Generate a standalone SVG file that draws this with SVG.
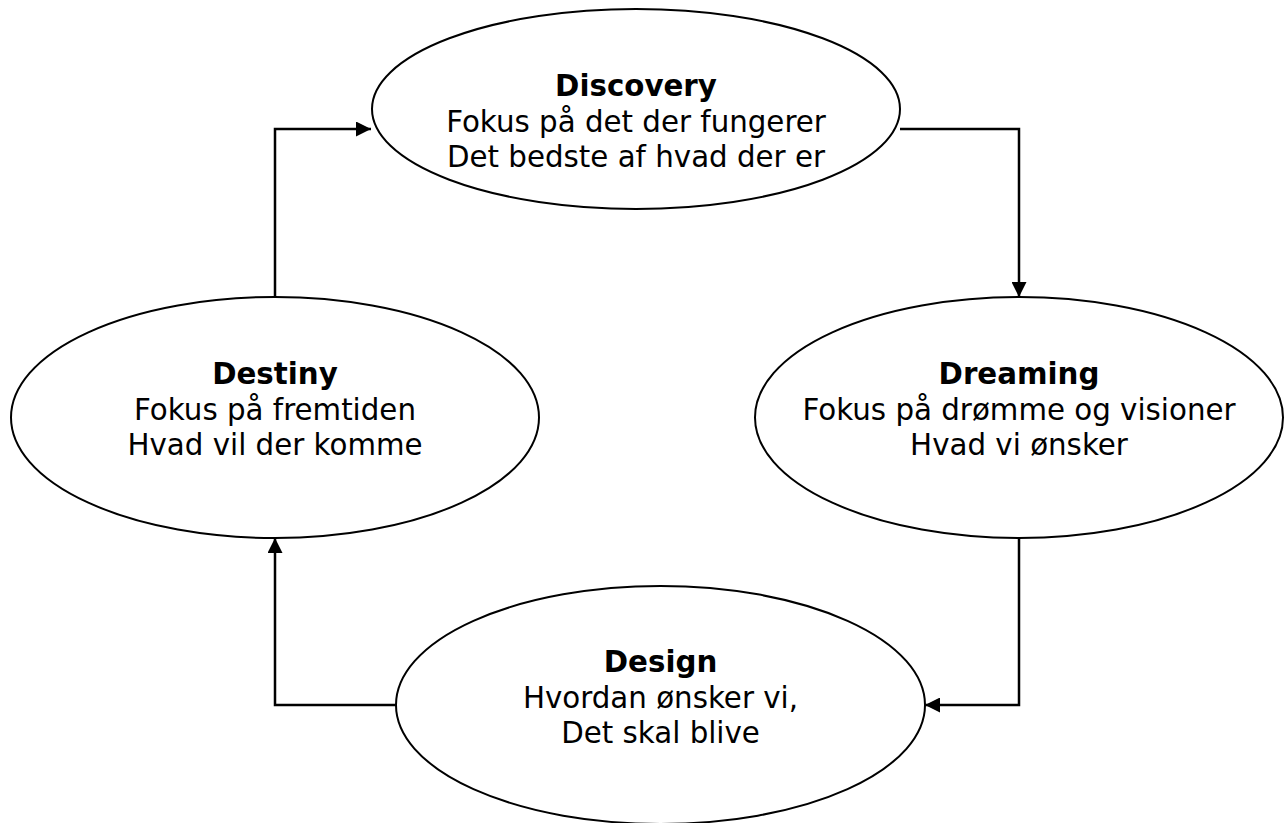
<svg xmlns="http://www.w3.org/2000/svg" width="1286" height="823" viewBox="0 0 1286 823">
<defs>
<marker id="arr" viewBox="0 0 10 10" refX="10" refY="5" markerWidth="6" markerHeight="6" markerUnits="strokeWidth" orient="auto">
<path d="M0,0 L10,5 L0,10 Z" fill="#000"/>
</marker>
<style>
.node ellipse{fill:#fff;stroke:#000;stroke-width:2}
.node text{font-family:"DejaVu Sans",Verdana,sans-serif;font-size:29.3px;text-anchor:middle;fill:#000}
.node text .t{font-weight:bold}
.conn path{fill:none;stroke:#000;stroke-width:2.5;marker-end:url(#arr)}
</style>
</defs>
<rect width="1286" height="823" fill="#fff"/>
<g class="conn">
<path d="M900,129 H1019 V297"/>
<path d="M1019,538 V705 H925"/>
<path d="M396,705 H275 V538"/>
<path d="M275,297 V129 H371"/>
</g>
<g id="discovery" class="node">
<ellipse cx="636" cy="109" rx="264" ry="100"/>
<text><tspan class="t" x="636" y="96">Discovery</tspan><tspan x="636" y="131.5">Fokus på det der fungerer</tspan><tspan x="636" y="167">Det bedste af hvad der er</tspan></text>
</g>
<g id="dreaming" class="node">
<ellipse cx="1019" cy="417.5" rx="264" ry="120.5"/>
<text><tspan class="t" x="1019" y="383.5">Dreaming</tspan><tspan x="1019" y="420">Fokus på drømme og visioner</tspan><tspan x="1019" y="455">Hvad vi ønsker</tspan></text>
</g>
<g id="destiny" class="node">
<ellipse cx="275" cy="417.5" rx="264" ry="120.5"/>
<text><tspan class="t" x="275" y="383.5">Destiny</tspan><tspan x="275" y="420">Fokus på fremtiden</tspan><tspan x="275" y="455">Hvad vil der komme</tspan></text>
</g>
<g id="design" class="node">
<ellipse cx="660.5" cy="705" rx="264.5" ry="119"/>
<text><tspan class="t" x="660.5" y="672">Design</tspan><tspan x="660.5" y="707.5">Hvordan ønsker vi,</tspan><tspan x="660.5" y="743">Det skal blive</tspan></text>
</g>
</svg>
